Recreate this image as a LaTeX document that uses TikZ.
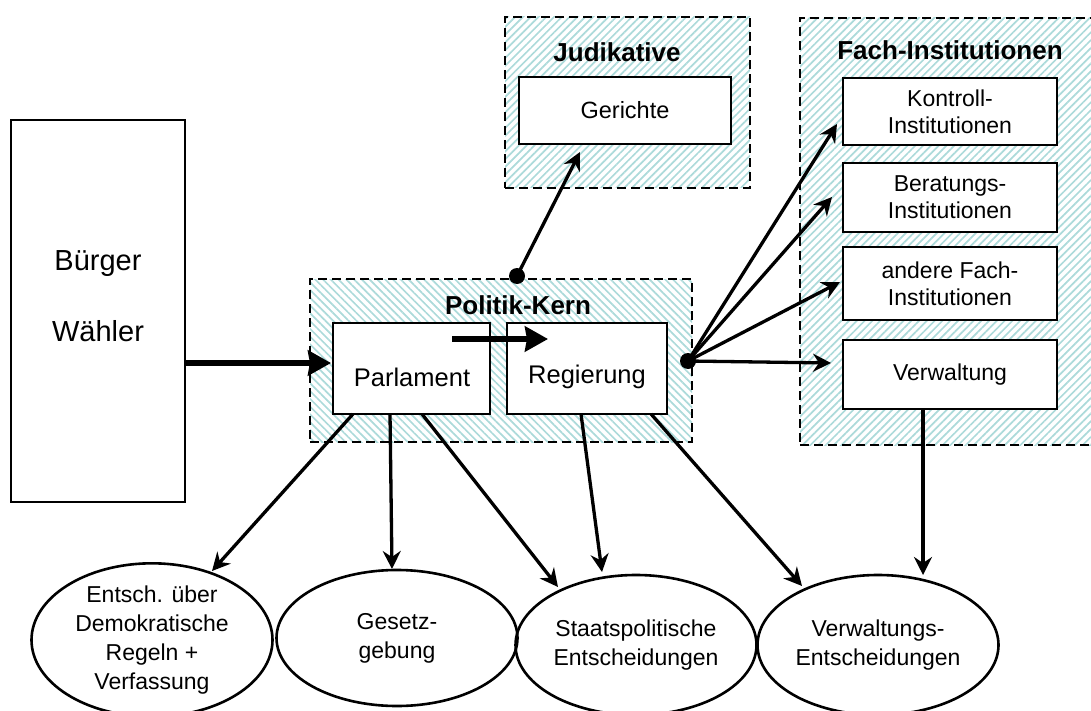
\documentclass[tikz,border=0pt]{standalone}
\usepackage{fontspec}
\setmainfont{Liberation Sans}
\usetikzlibrary{shapes.geometric,arrows.meta,patterns.meta}
\definecolor{hatch}{RGB}{172,218,218}
\newcommand\fsA{\fontsize{23}{27}\selectfont}
\newcommand\fsP{\fontsize{25.5}{29}\selectfont}
\newcommand\fsE{\fontsize{23}{29}\selectfont}
\newcommand\fsT{\fontsize{26}{30}\selectfont\bfseries}
\newcommand\fsB{\fontsize{29}{33}\selectfont}
\begin{document}
\begin{tikzpicture}[x=1pt,y=-1pt,
  box/.style={draw, line width=2.6pt, fill=white, inner sep=0pt, align=center, font=\fsA},
  frame/.style={draw, dash pattern=on 9pt off 5pt, line width=2pt, inner sep=0pt},
  hne/.style={pattern={Lines[angle=45,distance=5.5pt,line width=1.7pt]}, pattern color=hatch},
  hnw/.style={pattern={Lines[angle=-45,distance=5.5pt,line width=1.7pt]}, pattern color=hatch},
  title/.style={font=\fsT, inner sep=0pt},
  txt/.style={font=\fsP, inner sep=0pt, align=center},
  ell/.style={ellipse, draw, line width=2.6pt, minimum width=241, minimum height=140, inner sep=0pt, align=center, font=\fsE},
  conn/.style={line width=3.3pt, -{Stealth[length=18pt,width=18pt,inset=6pt]}},
  big/.style={line width=5.5pt, -{Stealth[length=23pt,width=25pt,inset=2pt]}},
  dot/.style={circle, fill=black, inner sep=0pt, minimum size=16pt}
]
\useasboundingbox (0,0) rectangle (1091,711);
\clip (0,0) rectangle (1091,711);

% frames
\node[frame, hne, minimum width=245, minimum height=171] (jud) at (627.5,102.5) {};
\node[frame, hne, minimum width=300, minimum height=427] (fach) at (950,231.5) {};
\node[frame, hnw, minimum width=382, minimum height=163] (pk) at (501,360.5) {};

% titles
\node[title] (tjud) at (617,52) {Judikative};
\node[title] (tfach) at (950,50) {Fach-Institutionen};
\node[title] (tpk) at (518,305) {Politik-Kern};

% Buerger box
\node[box, line width=2.2pt, minimum width=174, minimum height=382] (buerger) at (98,311) {};
\node[font=\fsB, inner sep=0pt, align=center] (tbuerger) at (98,296) {Bürger\\[38pt]Wähler};

% Politik-Kern boxes
\node[box, minimum width=157, minimum height=91] (parl) at (411.5,368.5) {};
\node[txt] (tparl) at (412,377) {Parlament};
\node[box, minimum width=160, minimum height=91] (reg) at (587,368.5) {};
\node[txt] (treg) at (587,377) {Regierung};

% Judikative
\node[box, font=\fontsize{23.5}{27}\selectfont, minimum width=212, minimum height=67] (ger) at (625,110.5) {Gerichte};

% Fach-Institutionen
\node[box, minimum width=214, minimum height=67] (kon) at (950,111.5) {Kontroll-\\Institutionen};
\node[box, line width=1.7pt, minimum width=214, minimum height=69] (ber) at (950,197.5) {Beratungs-\\Institutionen};
\node[box, minimum width=214, minimum height=73] (and) at (950,283.5) {andere Fach-\\Institutionen};
\node[box, minimum width=214, minimum height=69] (verw) at (950,374.5) {Verwaltung};

% ellipses
\node[ell] (e1) at (152,640) {Entsch. über\\Demokratische\\Regeln +\\Verfassung};
\node[ell, minimum height=136] (e2) at (397,638) {Gesetz-\\gebung};
\node[ell] (e3) at (636,645) {Staatspolitische\\Entscheidungen};
\node[ell] (e4) at (878,645) {Verwaltungs-\\Entscheidungen};

% dots
\node[dot] (dj) at (517,276) {};
\node[dot] (df) at (688,361) {};

% coordinates for free ends
\coordinate (bstart) at (185,363);
\coordinate (bend) at (331,363);
\coordinate (istart) at (452,339);
\coordinate (iend) at (548,339);
\coordinate (gtip) at (580,152);
\coordinate (ktip) at (837,124);
\coordinate (btip) at (832,197);
\coordinate (atip) at (840,282);
\coordinate (vtip) at (831,363);
\coordinate (p1) at (353,414);
\coordinate (p2) at (390,414);
\coordinate (p3) at (422,414);
\coordinate (r1) at (581,414);
\coordinate (r2) at (651,414);
\coordinate (v1) at (923,409);
\coordinate (e1t) at (212,571);
\coordinate (e2t) at (392,569);
\coordinate (e3a) at (558,587);
\coordinate (e3b) at (602,572);
\coordinate (e4a) at (802,586);
\coordinate (e4b) at (923,575);

% connectors
\draw[big] (bstart) -- (bend);
\draw[big] (istart) -- (iend);
\draw[conn] (dj.center) -- (gtip);
\draw[conn] (df.center) -- (ktip);
\draw[conn] (df.center) -- (btip);
\draw[conn] (df.center) -- (atip);
\draw[conn] (df.center) -- (vtip);
\draw[conn] (p1) -- (e1t);
\draw[conn] (p2) -- (e2t);
\draw[conn] (p3) -- (e3a);
\draw[conn] (r1) -- (e3b);
\draw[conn] (r2) -- (e4a);
\draw[conn] (v1) -- (e4b);
\end{tikzpicture}
\end{document}
